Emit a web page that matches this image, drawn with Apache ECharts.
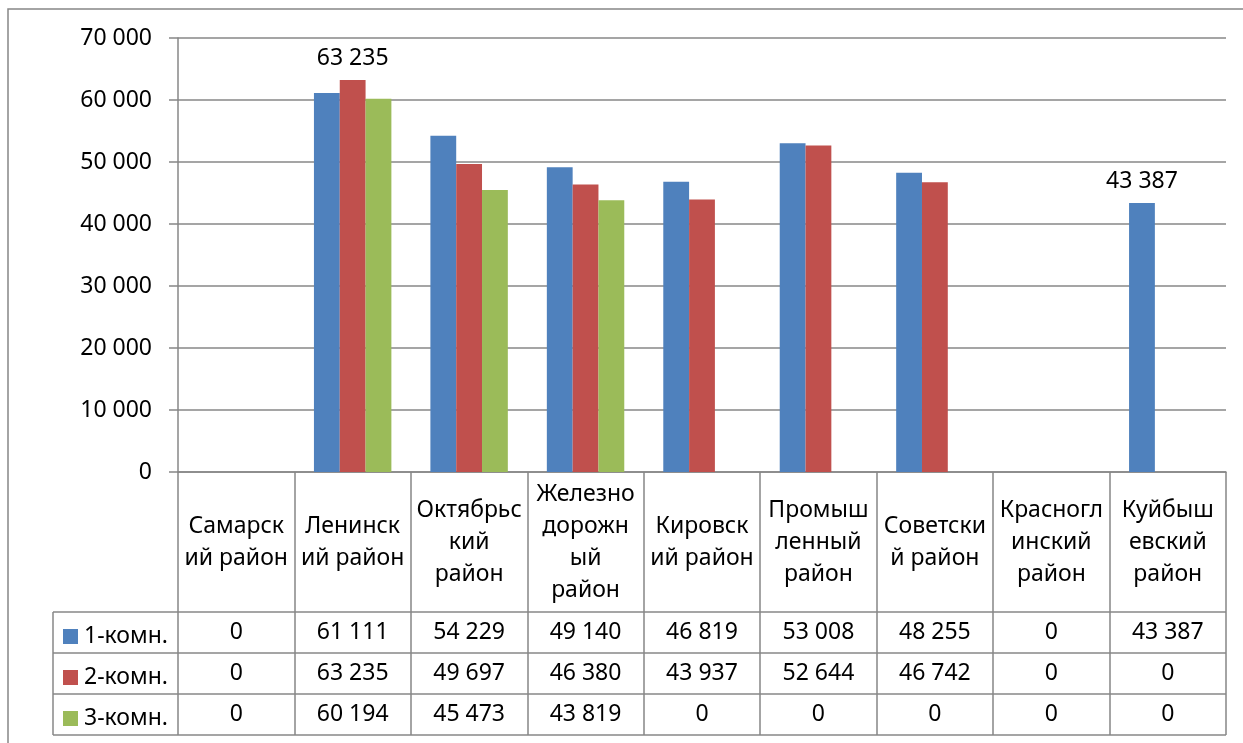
<!DOCTYPE html>
<html><head><meta charset="utf-8">
<script src="https://cdn.jsdelivr.net/npm/echarts@6/dist/echarts.min.js"></script>
<style>html,body{margin:0;padding:0;background:#fff}#c{width:1243px;height:743px}</style>
</head><body><div id="c"></div>
<script>
const categories = ["Самарск\nий район","Ленинск\nий район","Октябрьс\nкий\nрайон","Железно\nдорожн\nый\nрайон","Кировск\nий район","Промыш\nленный\nрайон","Советски\nй район","Красногл\nинский\nрайон","Куйбыш\nевский\nрайон"];
const seriesNames = ["1-комн.","2-комн.","3-комн."];
const one = [0,61111,54229,49140,46819,53008,48255,0,43387];
const two = [0,63235,49697,46380,43937,52644,46742,0,0];
const three = [0,60194,45473,43819,0,0,0,0,0];
const yTicks = [0,10000,20000,30000,40000,50000,60000,70000];

const FONT = 'Noto Sans';
const FS = 23;
const GRAY = '#878787';
const fmt = v => String(v).replace(/\B(?=(\d{3})+(?!\d))/g,' ');
const rows = [one,two,three];
const colors = ['#4F81BD','#C0504D','#9BBB59'];

const chart = echarts.init(document.getElementById('c'));
const baseText = {fontFamily:FONT,fontSize:FS,color:'#000'};

const xAxes = [{
  type:'category', data:categories, gridIndex:0,
  axisLine:{show:true,lineStyle:{color:GRAY,width:1.5}},
  axisTick:{show:true,length:263,interval:0,lineStyle:{color:GRAY,width:1.5}},
  axisLabel:Object.assign({interval:0,margin:70,verticalAlign:'middle',lineHeight:32,align:'center'},baseText)
}];
const rowMargins=[160.5,201.5,242.5];
rows.forEach((r,ri)=>{
  xAxes.push({
    type:'category', data:categories, gridIndex:0, position:'bottom',
    axisLine:{show:false}, axisTick:{show:false}, splitLine:{show:false},
    axisLabel:Object.assign({interval:0,margin:rowMargins[ri],verticalAlign:'middle',
      formatter:(v,i)=>fmt(r[i])},baseText)
  });
});

const labelFor = (arr, idxs) => arr.map((v,i)=> idxs.includes(i) ? {value:v,label:{show:true,position:'top',distance:10,formatter:p=>fmt(p.value),fontFamily:FONT,fontSize:FS,color:'#000'}} : v);

const legendTops=[625,666,707];
const legends = seriesNames.map((n,i)=>({
  orient:'horizontal', left:63, top:legendTops[i], itemWidth:15, itemHeight:15, padding:0,
  icon:'rect', selectedMode:false,
  textStyle:{fontFamily:FONT,fontSize:FS,color:'#000',lineHeight:15,padding:[0,0,5,1]},
  data:[n]
}));

const option = {
  animation:false,
  backgroundColor:'#fff',
  textStyle:{fontFamily:FONT},
  grid:{left:178,right:17,top:38,bottom:271,containLabel:false},
  legend:legends,
  xAxis:xAxes,
  yAxis:{
    type:'value', min:yTicks[0], max:yTicks[yTicks.length-1], interval:yTicks[1]-yTicks[0],
    axisLine:{show:true,lineStyle:{color:GRAY,width:1.5}},
    axisTick:{show:true,length:9,lineStyle:{color:GRAY,width:1.5}},
    splitLine:{show:true,lineStyle:{color:GRAY,width:1.5}},
    axisLabel:Object.assign({margin:26,formatter:v=>fmt(v)},baseText)
  },
  series:[
    {name:seriesNames[0],type:'bar',data:labelFor(one,[8]),itemStyle:{color:colors[0]},barGap:'0%',barCategoryGap:'33.5%'},
    {name:seriesNames[1],type:'bar',data:labelFor(two,[1]),itemStyle:{color:colors[1]},barGap:'0%',barCategoryGap:'33.5%'},
    {name:seriesNames[2],type:'bar',data:three,itemStyle:{color:colors[2]},barGap:'0%',barCategoryGap:'33.5%'}
  ],
  graphic:[
    {type:'rect',shape:{x:8,y:9,width:1400,height:900},style:{fill:'none',stroke:GRAY,lineWidth:1.5},silent:true},
    {type:'line',shape:{x1:53,y1:612,x2:1226,y2:612},style:{stroke:GRAY,lineWidth:1.5},silent:true},
    {type:'line',shape:{x1:53,y1:653,x2:1226,y2:653},style:{stroke:GRAY,lineWidth:1.5},silent:true},
    {type:'line',shape:{x1:53,y1:694,x2:1226,y2:694},style:{stroke:GRAY,lineWidth:1.5},silent:true},
    {type:'line',shape:{x1:53,y1:735,x2:1226,y2:735},style:{stroke:GRAY,lineWidth:1.5},silent:true},
    {type:'line',shape:{x1:53,y1:612,x2:53,y2:735},style:{stroke:GRAY,lineWidth:1.5},silent:true}
  ]
};
chart.setOption(option);
</script></body></html>
